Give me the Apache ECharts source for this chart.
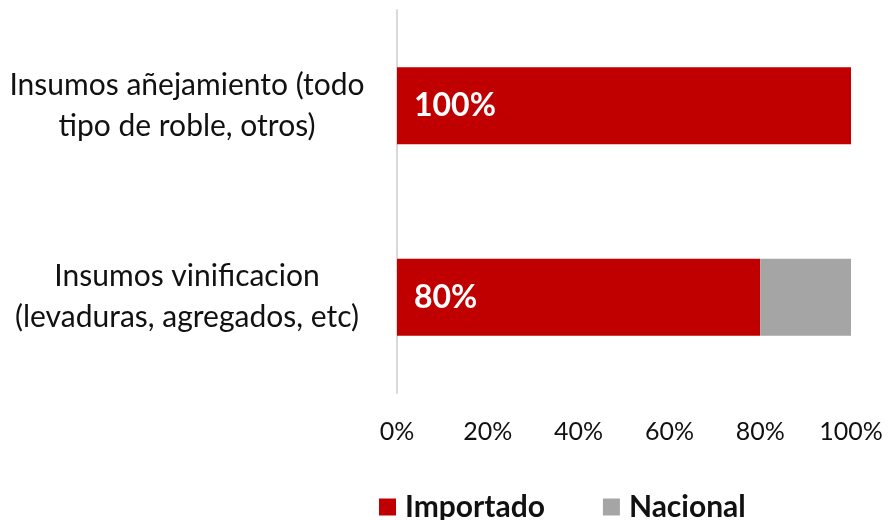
<!DOCTYPE html>
<html>
<head>
<meta charset="utf-8">
<script src="https://cdn.jsdelivr.net/npm/echarts@6/dist/echarts.min.js"></script>
<style>
  html, body { margin: 0; padding: 0; background: #fff; }
  #chart { width: 888px; height: 520px; }
</style>
</head>
<body>
<div id="chart"></div>
<script>
var categories = [
  'Insumos añejamiento (todo\ntipo de roble, otros)',
  'Insumos vinificacion\n(levaduras, agregados, etc)'
];
var seriesNames = ['Importado', 'Nacional'];
var importado = [100, 80];
var nacional = [0, 20];
var xTicks = [0, 20, 40, 60, 80, 100];

var FONT = 'Lato, "Open Sans", sans-serif';

var chart = echarts.init(document.getElementById('chart'));
chart.setOption({
  animation: false,
  textStyle: { fontFamily: FONT },
  grid: { left: 397, right: 37, top: 10, bottom: 127, containLabel: false },
  legend: {
    top: 487,
    left: 374,
    itemWidth: 17,
    itemHeight: 17,
    itemGap: 58,
    icon: 'rect',
    textStyle: { fontSize: 30, fontWeight: 'bold', color: '#111', fontFamily: FONT, padding: [0, 0, 0, 4] },
    data: seriesNames
  },
  xAxis: {
    type: 'value',
    min: xTicks[0],
    max: xTicks[xTicks.length - 1],
    interval: 20,
    axisLine: { show: false },
    axisTick: { show: false },
    splitLine: { show: false },
    axisLabel: {
      formatter: '{value}%',
      fontSize: 25,
      color: '#111',
      margin: 26
    }
  },
  yAxis: {
    type: 'category',
    inverse: true,
    data: categories,
    axisLine: { show: true, lineStyle: { color: '#d9d9d9', width: 2 } },
    axisTick: { show: false },
    axisLabel: {
      fontSize: 30,
      color: '#111',
      align: 'center',
      margin: 210,
      lineHeight: 41
    }
  },
  series: [
    {
      name: seriesNames[0],
      type: 'bar',
      stack: 'total',
      barWidth: 77,
      data: importado,
      itemStyle: { color: '#C00000' },
      label: {
        show: true,
        position: 'insideLeft',
        distance: 17,
        formatter: '{c}%',
        color: '#fff',
        fontSize: 32,
        fontWeight: 'bold'
      }
    },
    {
      name: seriesNames[1],
      type: 'bar',
      stack: 'total',
      barWidth: 77,
      data: nacional,
      itemStyle: { color: '#A5A5A5' }
    }
  ]
});
</script>
</body>
</html>
